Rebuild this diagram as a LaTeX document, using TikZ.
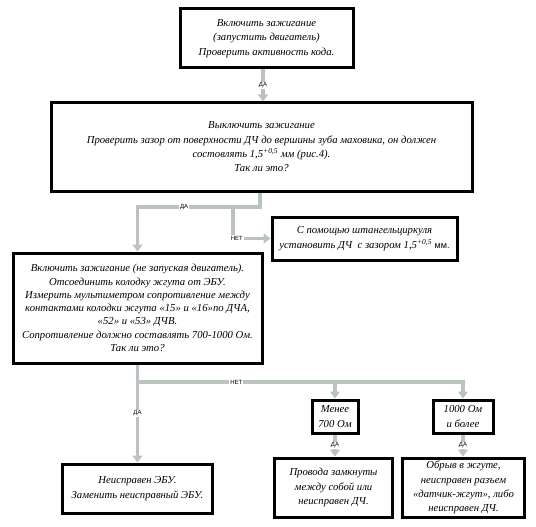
\documentclass[tikz,border=0pt]{standalone}
\usepackage{fontspec}
\setmainfont{Liberation Serif}
\setsansfont{Liberation Sans}
\usetikzlibrary{arrows.meta}
\definecolor{arrowgrey}{RGB}{186,196,186}
\begin{document}
\begin{tikzpicture}[x=1pt,y=-1pt,
  box/.style={draw=black, line width=3pt, fill=white, align=center, inner sep=1pt,
    font=\itshape\fontsize{10.7}{14.3}\selectfont},
  conn/.style={draw=arrowgrey, line width=3.5pt, -{Triangle[width=10pt,length=7pt]}},
  lbl/.style={fill=white, inner sep=1pt, font=\sffamily\fontsize{6}{6}\selectfont}]
  \useasboundingbox (0,0) rectangle (536,527);
  \node[box, minimum width=173pt, minimum height=59pt] (ignon) at (266.5,38.5)
    {Включить зажигание\\(запустить двигатель)\\Проверить активность кода.};
  \node[box, minimum width=421pt, minimum height=88pt] (gap) at (261.5,147)
    {Выключить зажигание\\Проверить зазор от поверхности ДЧ до вершины зуба маховика, он должен\\состовлять 1,5\textsuperscript{+0,5} мм (рис.4).\\Так ли это?};
  \node[box, minimum width=185pt, minimum height=43pt] (setgap) at (364.5,238.5)
    {С помощью штангельциркуля\\установить ДЧ\enspace с зазором 1,5\textsuperscript{+0,5} {\upshape\sffamily\small мм.}};
  \node[box, minimum width=249pt, minimum height=110pt, font=\itshape\fontsize{10.7}{13.3}\selectfont] (measure) at (137.5,308)
    {Включить зажигание (не запуская двигатель).\\Отсоединить колодку жгута от ЭБУ.\\Измерить мультиметром сопротивление между\\контактами колодки жгута «15» и «16»по ДЧА,\\«52» и «53» ДЧВ.\\Сопротивление должно составлять 700-1000 Ом.\\Так ли это?};
  \node[box, minimum width=150pt, minimum height=49pt] (ecu) at (137.5,488.5)
    {Неисправен ЭБУ.\\Заменить неисправный ЭБУ.};
  \node[box, minimum width=46pt, minimum height=33pt] (low) at (335,416.5)
    {Менее\\700 Ом};
  \node[box, minimum width=60pt, minimum height=33pt] (high) at (463,416.5)
    {1000 Ом\\и более};
  \node[box, minimum width=118pt, minimum height=59pt] (short) at (333.5,487.5)
    {Провода замкнуты\\между собой или\\неисправен ДЧ.};
  \node[box, minimum width=122pt, minimum height=59pt] (open) at (463.5,487.5)
    {Обрыв в жгуте,\\неисправен разъем\\«датчик-жгут», либо\\неисправен ДЧ.};
  \coordinate (split1) at (233,207);
  \coordinate (split2) at (137.5,382);
  \draw[conn] (ignon.south -| 263,0) -- (gap.north -| 263,0) node[lbl, midway] {ДА};
  \draw[conn] (gap.south -| 260,0) -- (260,207) -| (measure.north) node[lbl, pos=0.31] {ДА};
  \draw[conn] (split1) |- (setgap.west) node[lbl, pos=0.55] {НЕТ};
  \draw[conn] (measure.south) -- (ecu.north) node[lbl, midway] {ДА};
  \draw[conn] (split2) -| (high.north);
  \draw[conn] (split2) -| (low.north) node[lbl, pos=0.25] {НЕТ};
  \draw[conn] (low.south) -- (low.south |- short.north) node[lbl, midway] {ДА};
  \draw[conn] (high.south) -- (high.south |- open.north) node[lbl, midway] {ДА};
\end{tikzpicture}
\end{document}
